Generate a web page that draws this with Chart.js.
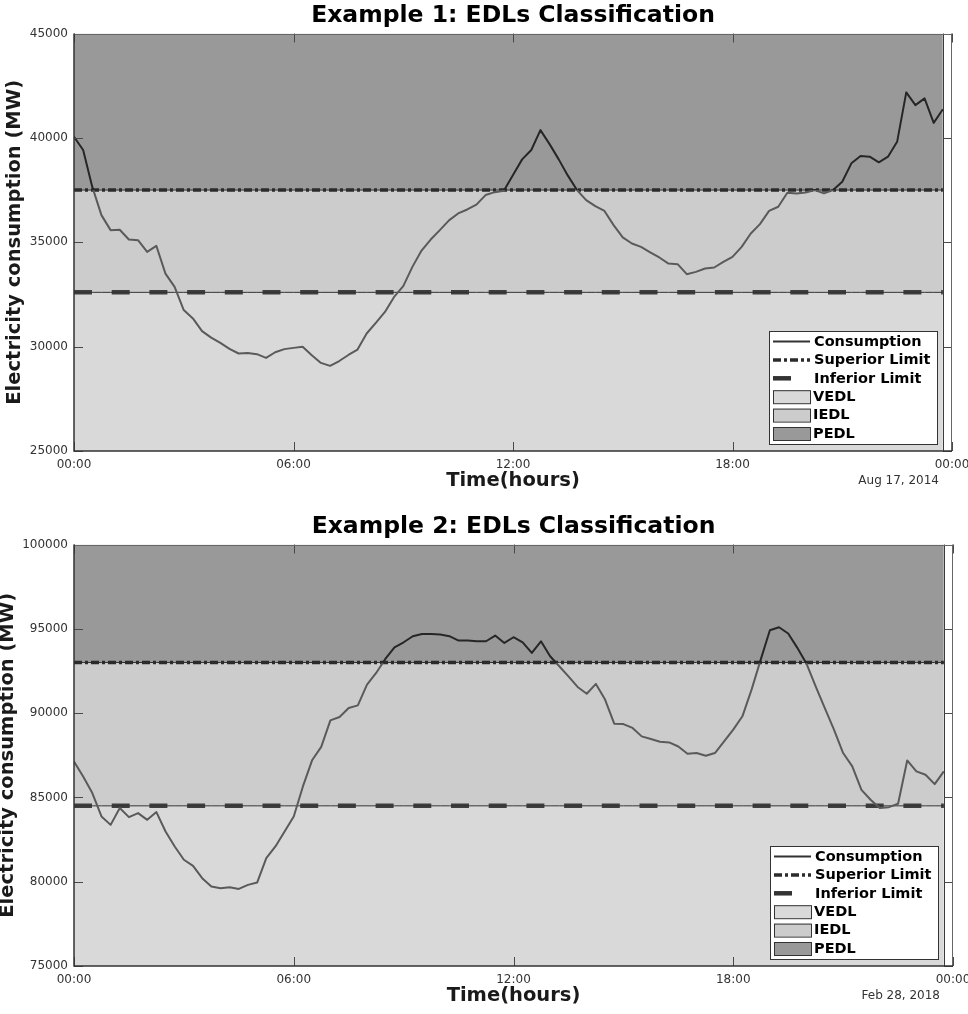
<!DOCTYPE html>
<html>
<head>
<meta charset="utf-8">
<script src="https://cdn.jsdelivr.net/npm/chart.js@4.4.1/dist/chart.umd.min.js"></script>
<style>
  html, body { margin: 0; padding: 0; background: #fff; overflow: hidden; }
  .wrap { position: absolute; left: 0; width: 968px; }
  canvas { display: block; }
</style>
</head>
<body>
<div class="wrap" style="top:0px;height:499px"><canvas id="c1" width="968" height="499"></canvas></div>
<div class="wrap" style="top:511px;height:503px"><canvas id="c2" width="968" height="503"></canvas></div>
<script>
// ---------- data (15-minute samples, 00:00 .. 23:45) ----------
const STEP_HOURS = 0.25;
const X_TICK_LABELS = ['00:00', '06:00', '12:00', '18:00', '00:00'];
const LEGEND_LABELS = ['Consumption', 'Superior Limit', 'Inferior Limit', 'VEDL', 'IEDL', 'PEDL'];

const title1 = 'Example 1: EDLs Classification';
const date1 = 'Aug 17, 2014';
const yTicks1 = [25000, 30000, 35000, 40000, 45000];
const superior1 = 37500;
const inferior1 = 32600;
const consumption1 = [
  40050, 39420, 37650, 36300, 35580, 35600, 35130, 35100, 34540, 34830,
  33500, 32860, 31750, 31350, 30740, 30430, 30180, 29890, 29670, 29690,
  29640, 29460, 29730, 29880, 29940, 29990, 29590, 29220, 29080, 29310,
  29600, 29860, 30630, 31140, 31660, 32380, 32900, 33820, 34600, 35130,
  35580, 36050, 36380, 36570, 36800, 37260, 37400, 37470, 38220, 38970,
  39420, 40370, 39700, 38970, 38190, 37500, 37020, 36730, 36500, 35820,
  35230, 34940, 34780, 34520, 34270, 33980, 33950, 33470, 33580, 33740,
  33790, 34060, 34300, 34780, 35420, 35870, 36500, 36700, 37370, 37340,
  37380, 37500, 37340, 37500, 37900, 38780, 39130, 39100, 38830, 39100,
  39810, 42180, 41570, 41890, 40720, 41370
];

const title2 = 'Example 2: EDLs Classification';
const date2 = 'Feb 28, 2018';
const yTicks2 = [75000, 80000, 85000, 90000, 95000, 100000];
const superior2 = 93000;
const inferior2 = 84500;
const consumption2 = [
  87130, 86240, 85260, 83870, 83370, 84370, 83830, 84070, 83670, 84130,
  82980, 82090, 81300, 80940, 80210, 79710, 79610, 79670, 79570, 79810,
  79950, 81400, 82090, 82980, 83870, 85650, 87200, 88000, 89570, 89770,
  90300, 90460, 91690, 92380, 93210, 93900, 94200, 94560, 94690, 94690,
  94660, 94560, 94300, 94300, 94260, 94260, 94600, 94160, 94500, 94200,
  93570, 94260, 93370, 92780, 92180, 91550, 91150, 91730, 90800, 89370,
  89350, 89120, 88620, 88460, 88300, 88260, 88020, 87590, 87630, 87470,
  87630, 88320, 89020, 89810, 91390, 93170, 94910, 95090, 94720, 93870,
  92930, 91590, 90300, 89020, 87630, 86840, 85450, 84860, 84370, 84420,
  84620, 87190, 86540, 86340, 85790, 86540
];

// ---------- styling ----------
const COL_PEDL = '#999999';
const COL_IEDL = '#cccccc';
const COL_VEDL = '#d9d9d9';
const COL_LINE_HIGH = '#262626';
const COL_LINE_LOW = '#5a5a5a';
const FONT = "'DejaVu Sans', 'Liberation Sans', sans-serif";
const SUP_DASH = [8, 3, 3, 3];
const INF_DASH = [18, 19.7];

function drawLegend(ctx, a) {
  const w = 168, h = 113;
  const L = Math.round(a.right - 15 - w), T = Math.round(a.bottom - 6.7 - h);
  ctx.save();
  ctx.fillStyle = '#ffffff';
  ctx.fillRect(L, T, w, h);
  ctx.strokeStyle = '#333';
  ctx.lineWidth = 1;
  ctx.strokeRect(L + 0.5, T + 0.5, w, h);
  const sx0 = L + 4, sx1 = L + 41, tx = L + 44;
  LEGEND_LABELS.forEach((lab, i) => {
    const cy = T + 10.5 + i * 18.4;
    ctx.setLineDash([]);
    if (i === 0) {
      ctx.strokeStyle = '#333'; ctx.lineWidth = 2;
      ctx.beginPath(); ctx.moveTo(sx0, cy); ctx.lineTo(sx1, cy); ctx.stroke();
    } else if (i === 1) {
      ctx.strokeStyle = '#2b2b2b'; ctx.lineWidth = 3.5;
      ctx.setLineDash(SUP_DASH);
      ctx.beginPath(); ctx.moveTo(sx0, cy); ctx.lineTo(sx1, cy); ctx.stroke();
      ctx.setLineDash([]);
    } else if (i === 2) {
      ctx.strokeStyle = '#333'; ctx.lineWidth = 4.5;
      ctx.beginPath(); ctx.moveTo(sx0, cy); ctx.lineTo(sx0 + 18, cy); ctx.stroke();
    } else {
      const fill = [COL_VEDL, COL_IEDL, COL_PEDL][i - 3];
      ctx.fillStyle = fill;
      ctx.fillRect(sx0, cy - 6.5, 37, 13);
      ctx.strokeStyle = '#333'; ctx.lineWidth = 1;
      ctx.strokeRect(sx0 + 0.5, cy - 6.5 + 0.5, 37, 13);
    }
    ctx.fillStyle = '#000';
    ctx.font = 'bold 14.5px ' + FONT;
    ctx.textBaseline = 'middle';
    ctx.textAlign = 'left';
    ctx.fillText(lab, i <= 2 ? tx + 1 : tx, cy + 0.5);
  });
  ctx.restore();
}

const decorPlugin = {
  id: 'decor',
  afterDatasetsDraw(chart, args, opts) {
    const { ctx, chartArea: a, scales: { x, y } } = chart;
    ctx.save();
    // right edge of the filled areas (last sample)
    const xe = Math.round(x.getPixelForValue(opts.lastX)) + 0.5;
    ctx.strokeStyle = '#3a3a3a'; ctx.lineWidth = 1;
    ctx.beginPath(); ctx.moveTo(xe, a.top); ctx.lineTo(xe, a.bottom); ctx.stroke();
    // inward ticks
    ctx.strokeStyle = '#4a4a4a'; ctx.lineWidth = 1;
    const TL = 9;
    x.ticks.forEach(t => {
      const px = Math.round(x.getPixelForValue(t.value)) + 0.5;
      ctx.beginPath();
      ctx.moveTo(px, a.bottom); ctx.lineTo(px, a.bottom - TL);
      ctx.moveTo(px, a.top); ctx.lineTo(px, a.top + TL);
      ctx.stroke();
    });
    y.ticks.forEach(t => {
      const py = Math.round(y.getPixelForValue(t.value)) + 0.5;
      ctx.beginPath();
      ctx.moveTo(a.left, py); ctx.lineTo(a.left + TL, py);
      ctx.moveTo(a.right, py); ctx.lineTo(a.right - TL, py);
      ctx.stroke();
    });
    // frame
    ctx.strokeStyle = '#666'; ctx.lineWidth = 1;
    ctx.beginPath();
    ctx.moveTo(a.left, Math.round(a.top) + 0.5); ctx.lineTo(a.right, Math.round(a.top) + 0.5);
    ctx.moveTo(Math.round(a.right) - 0.5, a.top); ctx.lineTo(Math.round(a.right) - 0.5, a.bottom);
    ctx.stroke();
    ctx.strokeStyle = '#333'; ctx.lineWidth = 1.5;
    ctx.beginPath();
    ctx.moveTo(Math.round(a.left), a.top); ctx.lineTo(Math.round(a.left), a.bottom);
    ctx.lineTo(a.right, a.bottom);
    ctx.stroke();
    // legend
    drawLegend(ctx, a);
    // date
    ctx.fillStyle = '#333';
    ctx.font = '12px ' + FONT;
    ctx.textAlign = 'right';
    ctx.textBaseline = 'middle';
    ctx.fillText(opts.date, a.right - 13, a.bottom + 30);
    ctx.restore();
  }
};

function makeChart(id, cfg) {
  const pts = arr => arr.map((v, i) => ({ x: i * STEP_HOURS, y: v }));
  const consumption = pts(cfg.consumption);
  const sup = pts(cfg.consumption.map(() => cfg.superior));
  const inf = pts(cfg.consumption.map(() => cfg.inferior));
  const yMin = cfg.yTicks[0], yMax = cfg.yTicks[cfg.yTicks.length - 1];
  const noPt = { pointRadius: 0, pointHoverRadius: 0 };
  const lineColor = (c) => {
    const chart = c.chart;
    const a = chart.chartArea;
    if (!a) return COL_LINE_LOW;
    const ys = chart.scales.y.getPixelForValue(cfg.superior);
    const p = Math.min(1, Math.max(0, (ys - a.top) / (a.bottom - a.top)));
    const g = chart.ctx.createLinearGradient(0, a.top, 0, a.bottom);
    g.addColorStop(0, COL_LINE_HIGH);
    g.addColorStop(p, COL_LINE_HIGH);
    g.addColorStop(p, COL_LINE_LOW);
    g.addColorStop(1, COL_LINE_LOW);
    return g;
  };
  return new Chart(document.getElementById(id), {
    type: 'line',
    data: {
      datasets: [
        { label: 'Consumption', data: consumption, borderColor: lineColor, borderWidth: 2,
          borderJoinStyle: 'round', fill: false, order: 1, tension: 0, ...noPt },
        { label: 'Superior Limit', data: sup, borderColor: '#2b2b2b', borderWidth: 3.5,
          borderDash: SUP_DASH, fill: false, order: 2, ...noPt },
        { label: 'sup-thin', data: sup, borderColor: '#333', borderWidth: 1, fill: false, order: 3, ...noPt },
        { label: 'Inferior Limit', data: inf, borderColor: 'rgba(50,50,50,0.92)', borderWidth: 4.5,
          borderDash: INF_DASH, borderCapStyle: 'butt', fill: false, order: 2, ...noPt },
        { label: 'inf-thin', data: inf, borderColor: '#333', borderWidth: 1, fill: false, order: 3, ...noPt },
        { label: 'PEDL', data: sup, borderColor: 'rgba(0,0,0,0)', borderWidth: 0,
          backgroundColor: COL_PEDL, fill: 'end', order: 10, ...noPt },
        { label: 'IEDL', data: inf, borderColor: 'rgba(0,0,0,0)', borderWidth: 0,
          backgroundColor: COL_IEDL, fill: 5, order: 10, ...noPt },
        { label: 'VEDL', data: inf, borderColor: 'rgba(0,0,0,0)', borderWidth: 0,
          backgroundColor: COL_VEDL, fill: 'start', order: 10, ...noPt }
      ]
    },
    options: {
      responsive: false,
      animation: false,
      events: [],
      layout: { padding: { left: 0, right: cfg.padRight, top: 0, bottom: 0 } },
      plugins: {
        legend: { display: false },
        tooltip: { enabled: false },
        filler: { propagate: false },
        title: {
          display: true, text: cfg.title, fullSize: false, color: '#000',
          font: { family: FONT, size: 23.5, weight: 'bold', lineHeight: 1.2 },
          padding: { top: 1.5, bottom: 3.8 }
        },
        decor: { lastX: (cfg.consumption.length - 1) * STEP_HOURS, date: cfg.date }
      },
      scales: {
        x: {
          type: 'linear', min: 0, max: 24,
          grid: { display: false, drawTicks: false }, border: { display: false },
          afterFit: s => { s.height = 48; s.paddingLeft = 0; s.paddingRight = 0; },
          afterBuildTicks: s => { s.ticks = X_TICK_LABELS.map((_, i) => ({ value: i * 6 })); },
          ticks: {
            autoSkip: false, maxRotation: 0, padding: 7, color: '#333',
            font: { family: FONT, size: 12 },
            callback: (v, i) => X_TICK_LABELS[i]
          },
          title: {
            display: true, text: 'Time(hours)', color: '#1a1a1a',
            font: { family: FONT, size: 19.5, weight: 'bold', lineHeight: 1.2 },
            padding: { top: 0, bottom: 6.8 }
          }
        },
        y: {
          type: 'linear', min: yMin, max: yMax,
          grid: { display: false, drawTicks: false }, border: { display: false },
          afterFit: s => { s.width = 74; s.paddingTop = 0; s.paddingBottom = 0; },
          afterBuildTicks: s => { s.ticks = cfg.yTicks.map(v => ({ value: v })); },
          ticks: {
            padding: 6, color: '#333',
            font: { family: FONT, size: 12 },
            callback: v => String(v)
          },
          title: {
            display: true, text: 'Electricity consumption (MW)', color: '#1a1a1a',
            font: { family: FONT, size: 19.5, weight: 'bold', lineHeight: 1.2 },
            padding: { top: cfg.yTitlePad, bottom: 0 }
          }
        }
      }
    },
    plugins: [decorPlugin]
  });
}

makeChart('c1', { title: title1, date: date1, yTicks: yTicks1, superior: superior1, inferior: inferior1,
  consumption: consumption1, padRight: 16, yTitlePad: 3.3 });
makeChart('c2', { title: title2, date: date2, yTicks: yTicks2, superior: superior2, inferior: inferior2,
  consumption: consumption2, padRight: 15, yTitlePad: -4.2 });
</script>
</body>
</html>
